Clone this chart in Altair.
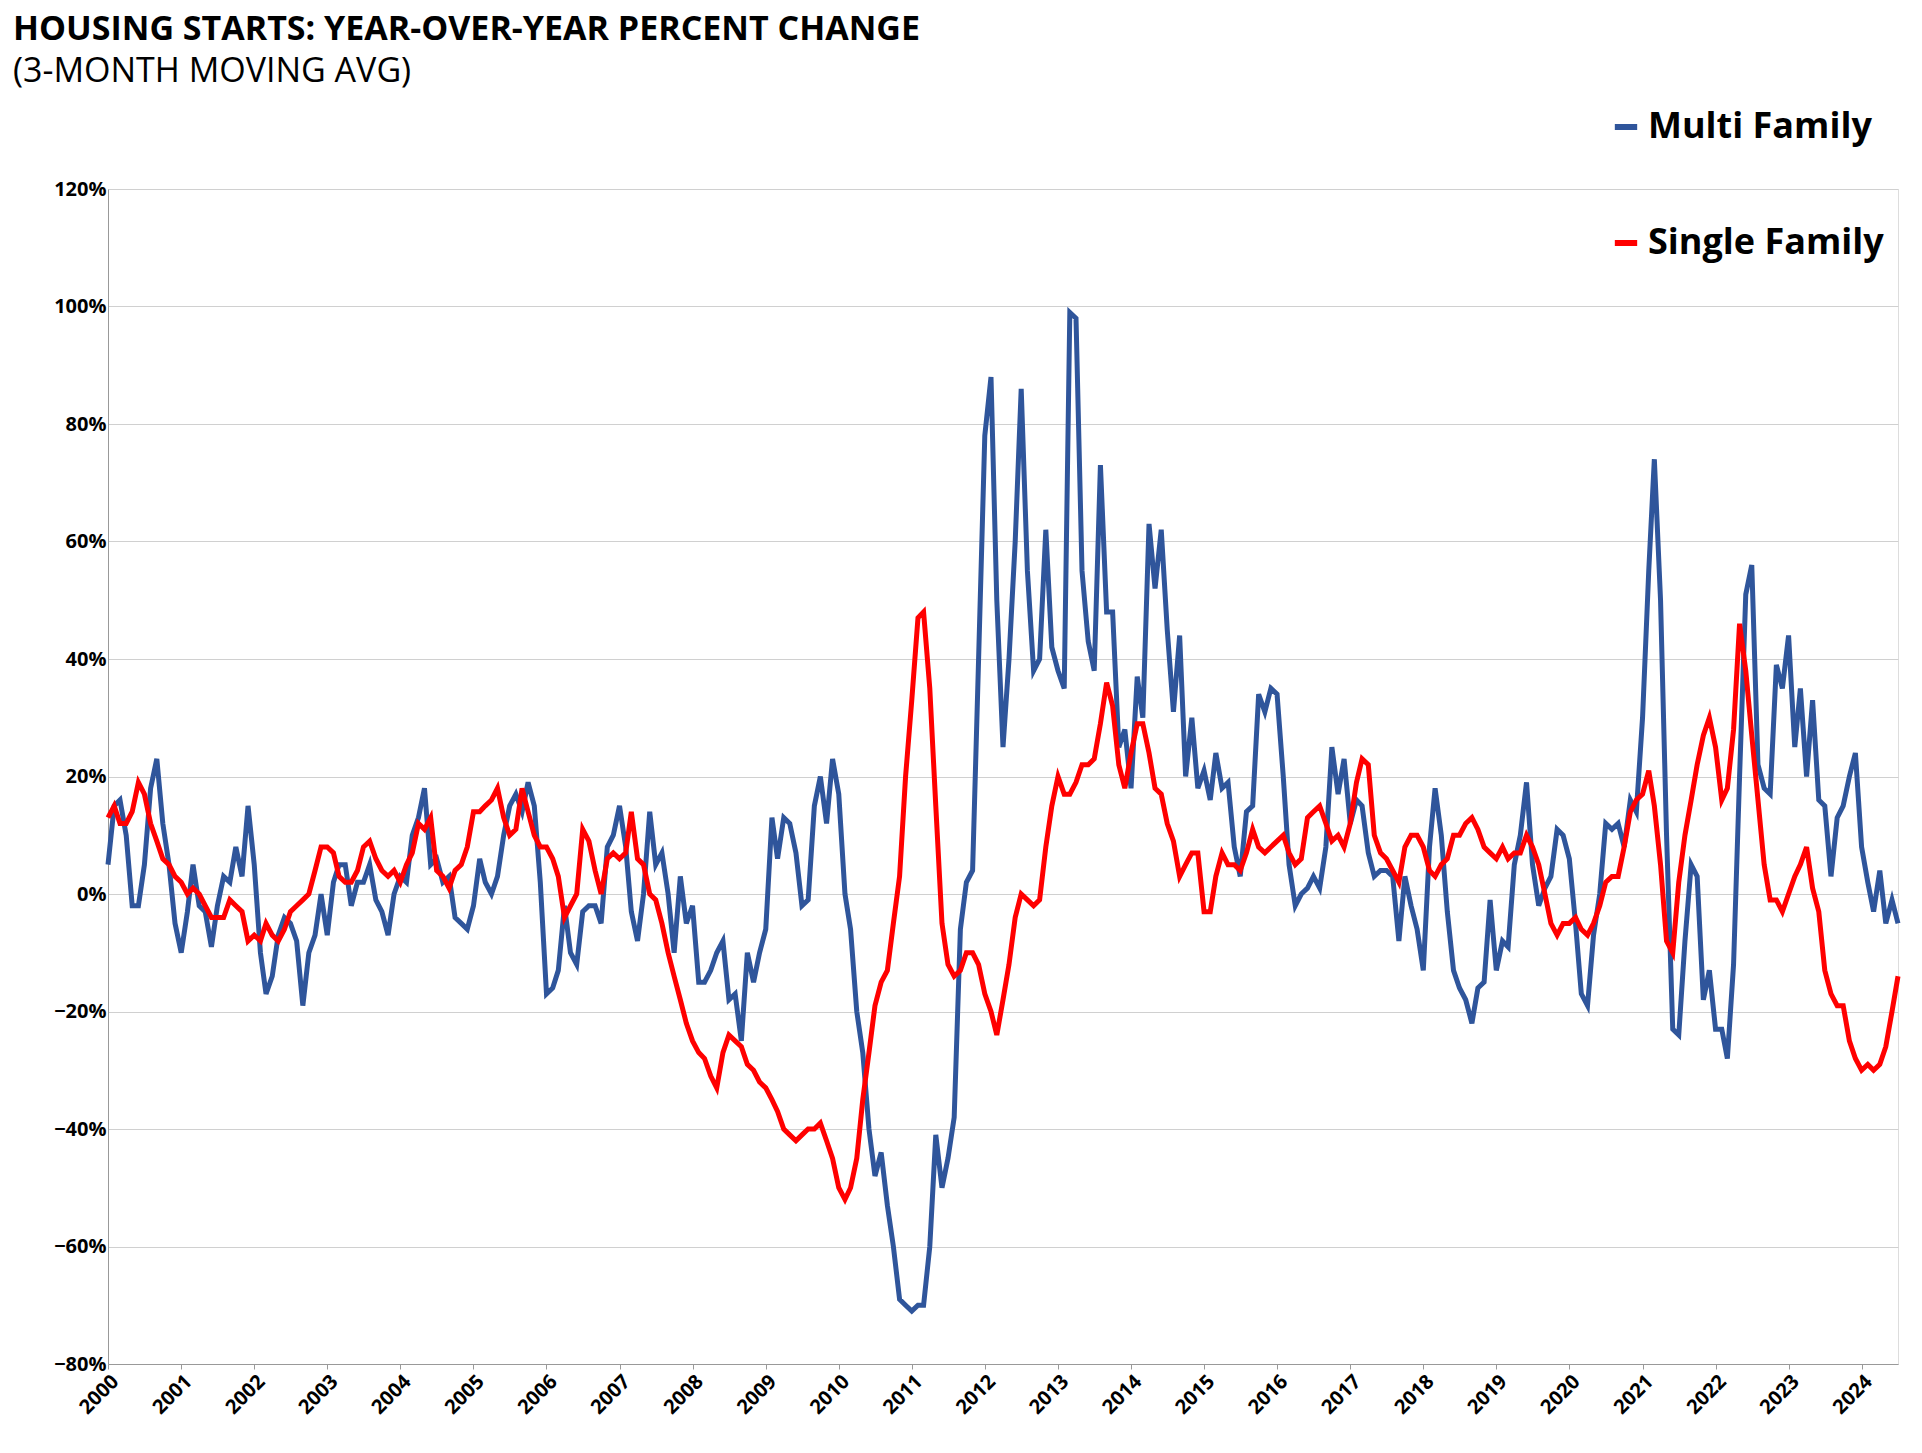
import altair as alt
import pandas as pd

# monthly YoY % change (3-month moving avg)
multi = {
    2000: [5, 15, 16, 10, -2, -2, 5, 18, 23, 12, 5, -5],
    2001: [-10, -3, 5, -2, -3, -9, -2, 3, 2, 8, 3, 15],
    2002: [5, -10, -17, -14, -7, -4, -5, -8, -19, -10, -7, 0],
    2003: [-7, 2, 5, 5, -2, 2, 2, 5, -1, -3, -7, 0],
    2004: [3, 2, 10, 13, 18, 5, 6, 2, 3, -4, -5, -6],
    2005: [-2, 6, 2, 0, 3, 10, 15, 17, 14, 19, 15, 2],
    2006: [-17, -16, -13, -2, -10, -12, -3, -2, -2, -5, 8, 10],
    2007: [15, 8, -3, -8, 0, 14, 5, 7, 0, -10, 3, -5],
    2008: [-2, -15, -15, -13, -10, -8, -18, -17, -25, -10, -15, -10],
    2009: [-6, 13, 6, 13, 12, 7, -2, -1, 15, 20, 12, 23],
    2010: [17, 0, -6, -20, -27, -40, -48, -44, -53, -60, -69, -70],
    2011: [-71, -70, -70, -60, -41, -50, -45, -38, -6, 2, 4, 40],
    2012: [78, 88, 50, 25, 40, 60, 86, 55, 38, 40, 62, 42],
    2013: [38, 35, 99, 98, 55, 43, 38, 73, 48, 48, 25, 28],
    2014: [18, 37, 30, 63, 52, 62, 45, 31, 44, 20, 30, 18],
    2015: [21, 16, 24, 18, 19, 8, 3, 14, 15, 34, 31, 35],
    2016: [34, 20, 5, -2, 0, 1, 3, 1, 8, 25, 17, 23],
    2017: [12, 16, 15, 7, 3, 4, 4, 3, -8, 3, -2, -6],
    2018: [-13, 8, 18, 10, -3, -13, -16, -18, -22, -16, -15, -1],
    2019: [-13, -8, -9, 5, 10, 19, 5, -2, 1, 3, 11, 10],
    2020: [6, -5, -17, -19, -7, 0, 12, 11, 12, 8, 16, 14],
    2021: [30, 55, 74, 50, 10, -23, -24, -8, 5, 3, -18, -13],
    2022: [-23, -23, -28, -12, 20, 51, 56, 22, 18, 17, 39, 35],
    2023: [44, 25, 35, 20, 33, 16, 15, 3, 13, 15, 20, 24],
    2024: [8, 2, -3, 4, -5, -1, -5],
}
single = {
    2000: [13, 15, 12, 12, 14, 19, 17, 12, 9, 6, 5, 3],
    2001: [2, 0, 1, 0, -2, -4, -4, -4, -1, -2, -3, -8],
    2002: [-7, -8, -5, -7, -8, -6, -3, -2, -1, 0, 4, 8],
    2003: [8, 7, 3, 2, 2, 4, 8, 9, 6, 4, 3, 4],
    2004: [2, 5, 7, 12, 11, 13, 4, 3, 1, 4, 5, 8],
    2005: [14, 14, 15, 16, 18, 13, 10, 11, 18, 14, 10, 8],
    2006: [8, 6, 3, -4, -2, 0, 11, 9, 4, 0, 6, 7],
    2007: [6, 7, 14, 6, 5, 0, -1, -5, -10, -14, -18, -22],
    2008: [-25, -27, -28, -31, -33, -27, -24, -25, -26, -29, -30, -32],
    2009: [-33, -35, -37, -40, -41, -42, -41, -40, -40, -39, -42, -45],
    2010: [-50, -52, -50, -45, -35, -27, -19, -15, -13, -5, 3, 20],
    2011: [33, 47, 48, 35, 15, -5, -12, -14, -13, -10, -10, -12],
    2012: [-17, -20, -24, -18, -12, -4, 0, -1, -2, -1, 8, 15],
    2013: [20, 17, 17, 19, 22, 22, 23, 29, 36, 32, 22, 18],
    2014: [24, 29, 29, 24, 18, 17, 12, 9, 3, 5, 7, 7],
    2015: [-3, -3, 3, 7, 5, 5, 4, 7, 11, 8, 7, 8],
    2016: [9, 10, 7, 5, 6, 13, 14, 15, 12, 9, 10, 8],
    2017: [12, 19, 23, 22, 10, 7, 6, 4, 2, 8, 10, 10],
    2018: [8, 4, 3, 5, 6, 10, 10, 12, 13, 11, 8, 7],
    2019: [6, 8, 6, 7, 7, 10, 8, 5, 0, -5, -7, -5],
    2020: [-5, -4, -6, -7, -5, -2, 2, 3, 3, 8, 14, 16],
    2021: [17, 21, 15, 5, -8, -10, 2, 10, 16, 22, 27, 30],
    2022: [25, 16, 18, 28, 46, 38, 27, 16, 5, -1, -1, -3],
    2023: [0, 3, 5, 8, 1, -3, -13, -17, -19, -19, -25, -28],
    2024: [-30, -29, -30, -29, -26, -20, -14],
}

rows = []
for name, series in [("Multi Family", multi), ("Single Family", single)]:
    for year, vals in series.items():
        for m, v in enumerate(vals):
            rows.append({"date": pd.Timestamp(year, m + 1, 1), "value": v / 100, "series": name})
df = pd.DataFrame(rows)

chart = (
    alt.Chart(df)
    .mark_line(strokeWidth=5)
    .encode(
        x=alt.X(
            "date:T",
            title=None,
            scale=alt.Scale(domain=["2000-01-01", "2024-07-01"]),
            axis=alt.Axis(
                format="%Y", tickCount={"interval": "year", "step": 1}, labelAngle=-45,
                labelFontSize=20, labelFontWeight="bold", labelColor="black",
                grid=False, domainColor="#999", tickColor="#999", labelAlign="right",
                labelBaseline="top", labelOffset=0,
            ),
        ),
        y=alt.Y(
            "value:Q",
            title=None,
            scale=alt.Scale(domain=[-0.8, 1.2], nice=False),
            axis=alt.Axis(
                format=".0%", values=[-0.8 + 0.2 * i for i in range(11)],
                labelFontSize=20, labelFontWeight="bold", labelColor="black",
                gridColor="#d0d0d0", domainColor="#999", ticks=False,
            ),
        ),
        color=alt.Color(
            "series:N",
            scale=alt.Scale(domain=["Multi Family", "Single Family"], range=["#2f559b", "#ff0000"]),
            legend=alt.Legend(
                title=None, orient="none", legendX=1500, legendY=-80,
                symbolType="stroke", symbolStrokeWidth=6, symbolSize=500,
                labelFontSize=36, labelFontWeight="bold", labelColor="black",
                rowPadding=80, labelLimit=400,
            ),
        ),
    )
    .properties(
        width=1790,
        height=1175,
        title=alt.TitleParams(
            "HOUSING STARTS: YEAR-OVER-YEAR PERCENT CHANGE",
            subtitle="(3-MONTH MOVING AVG)",
            anchor="start", frame="group", offset=20, dx=-95,
            fontSize=34, fontWeight="bold", subtitleFontSize=34,
            subtitleColor="black", subtitlePadding=8,
        ),
    )
    .configure_view(stroke=None)
    .configure(font="Open Sans")
)

chart.save("out.html", embed_options={"renderer": "svg", "actions": False})
